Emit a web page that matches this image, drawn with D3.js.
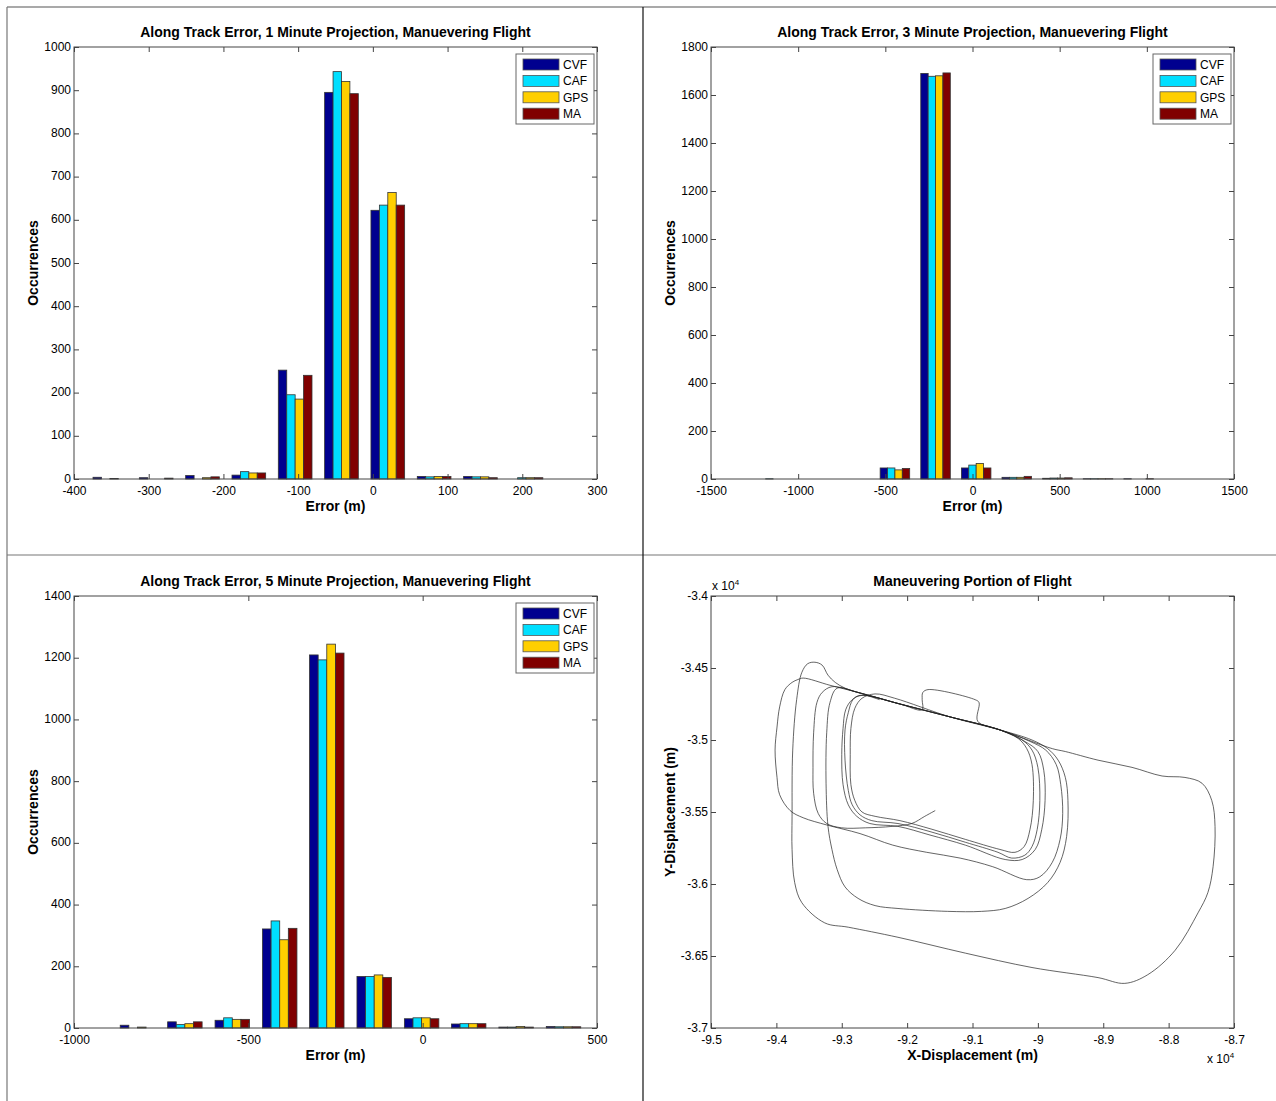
<!DOCTYPE html>
<html>
<head>
<meta charset="utf-8">
<script src="https://cdn.jsdelivr.net/npm/d3@7"></script>
<style>
  html, body { margin: 0; padding: 0; background: #fff; }
  svg { display: block; }
  text { font-family: "Liberation Sans", Arial, Helvetica, sans-serif; }
</style>
</head>
<body>
<svg id="fig" width="1276" height="1101"></svg>
<script>
// ---- series ----
const seriesNames = ["CVF", "CAF", "GPS", "MA"];
const seriesColors = ["#00008f", "#00dfff", "#ffcf00", "#800000"];

// 1 minute projection: histogram bin centres (m) and counts
const oneMinBins = [-352, -290, -228, -166, -104, -42, 20, 82, 144, 205];
const oneMinCVF = [4, 3, 8, 9, 252, 895, 622, 6, 6, 0];
const oneMinCAF = [0, 0, 0, 17, 195, 943, 634, 5, 5, 3];
const oneMinGPS = [1, 0, 3, 14, 185, 920, 663, 6, 5, 3];
const oneMinMA  = [0, 2, 5, 14, 240, 892, 634, 6, 3, 3];
const oneMinXTicks = [-400, -300, -200, -100, 0, 100, 200, 300];
const oneMinYTicks = [0, 100, 200, 300, 400, 500, 600, 700, 800, 900, 1000];

// 3 minute projection
const threeMinBins = [-1144, -911, -678, -445, -212, 21, 254, 487, 720, 953];
const threeMinCVF = [0, 0, 0, 46, 1690, 46, 7, 3, 1, 1];
const threeMinCAF = [1, 0, 0, 46, 1678, 58, 7, 4, 1, 0];
const threeMinGPS = [0, 0, 0, 38, 1680, 65, 7, 4, 1, 0];
const threeMinMA  = [0, 0, 0, 44, 1692, 46, 11, 5, 1, 1];
const threeMinXTicks = [-1500, -1000, -500, 0, 500, 1000, 1500];
const threeMinYTicks = [0, 200, 400, 600, 800, 1000, 1200, 1400, 1600, 1800];

// 5 minute projection
const fiveMinBins = [-818, -682, -546, -410, -275, -139, -3, 132, 268, 404];
const fiveMinCVF = [9, 20, 25, 321, 1209, 167, 30, 13, 3, 5];
const fiveMinCAF = [0, 11, 33, 347, 1193, 167, 33, 14, 3, 4];
const fiveMinGPS = [3, 14, 28, 286, 1244, 172, 33, 14, 5, 4];
const fiveMinMA  = [0, 20, 28, 323, 1215, 164, 30, 14, 3, 4];
const fiveMinXTicks = [-1000, -500, 0, 500];
const fiveMinYTicks = [0, 200, 400, 600, 800, 1000, 1200, 1400];

// maneuvering flight track, [x, y] in metres
const flightTrack = [
  [-91570,-35490],[-91730,-35530],[-91930,-35580],[-92230,-35600],[-92640,-35610],[-93000,-35610],
  [-93230,-35580],[-93360,-35510],[-93430,-35370],[-93440,-35190],[-93430,-34950],[-93380,-34740],
  [-93300,-34670],[-93150,-34630],[-92750,-34670],[-92110,-34750],[-91340,-34840],[-90580,-34930],
  // first racetrack
  [-90240,-35000],[-90090,-35070],[-90000,-35190],[-89970,-35420],[-90010,-35620],[-90090,-35740],
  [-90200,-35800],[-90400,-35820],[-90610,-35780],[-91110,-35710],[-91620,-35640],[-92140,-35580],
  [-92540,-35560],[-92720,-35520],[-92840,-35450],[-92900,-35350],[-92950,-35140],[-92950,-34930],
  [-92900,-34810],[-92830,-34720],[-92720,-34690],[-92110,-34750],[-91340,-34840],[-90580,-34930],
  // second racetrack
  [-90200,-35010],[-90000,-35080],[-89910,-35210],[-89890,-35420],[-89940,-35620],[-90040,-35760],
  [-90240,-35830],[-90500,-35830],[-91110,-35730],[-91650,-35660],[-92140,-35600],[-92570,-35580],
  [-92770,-35530],[-92900,-35450],[-92980,-35310],[-93000,-35100],[-92980,-34920],[-92940,-34790],
  [-92840,-34720],[-92690,-34690],[-92110,-34750],
  // detour north, then third racetrack
  [-91770,-34790],[-91770,-34720],[-91760,-34670],[-91680,-34650],[-90960,-34720],[-90900,-34740],
  [-90920,-34870],[-90580,-34930],[-90300,-34990],[-90170,-35060],[-90090,-35170],[-90070,-35420],
  [-90120,-35620],[-90210,-35740],[-90350,-35780],[-90580,-35760],[-91110,-35690],[-91620,-35620],
  [-92110,-35560],[-92490,-35530],[-92690,-35500],[-92800,-35420],[-92860,-35310],[-92870,-35100],
  [-92860,-34920],[-92800,-34780],[-92690,-34710],[-92490,-34680],[-92190,-34710],[-91340,-34840],
  [-90580,-34930],
  // wider loop
  [-90090,-35000],[-89850,-35060],[-89690,-35140],[-89580,-35260],[-89540,-35420],[-89560,-35670],
  [-89660,-35850],[-89850,-35990],[-90150,-36100],[-90500,-36170],[-90860,-36190],[-91380,-36190],
  [-92140,-36170],[-92490,-36150],[-92750,-36100],[-92950,-36020],[-93070,-35900],[-93150,-35760],
  [-93210,-35600],[-93240,-35300],[-93230,-34950],[-93180,-34740],[-93070,-34640],[-92750,-34670],
  [-92110,-34750],[-91340,-34840],[-90580,-34930],
  // westernmost loop
  [-90120,-35010],[-89880,-35070],[-89720,-35170],[-89650,-35310],[-89620,-35510],[-89660,-35690],
  [-89780,-35850],[-89970,-35950],[-90170,-35970],[-90690,-35880],[-91190,-35820],[-91700,-35780],
  [-92220,-35730],[-92720,-35650],[-93230,-35590],[-93590,-35540],[-93790,-35490],[-93950,-35380],
  [-93990,-35260],[-94020,-35070],[-93990,-34910],[-93950,-34770],[-93870,-34650],[-93760,-34600],
  [-93670,-34580],[-93590,-34570],[-93180,-34620],[-92750,-34670],[-92110,-34750],[-91340,-34840],
  [-90580,-34930],
  // outer loop
  [-89780,-35060],[-89580,-35080],[-89080,-35140],[-88560,-35190],[-88100,-35250],[-87750,-35260],
  [-87490,-35300],[-87340,-35420],[-87290,-35600],[-87320,-35880],[-87400,-36060],[-87550,-36200],
  [-87900,-36460],[-88320,-36630],[-88670,-36690],[-89080,-36650],[-90090,-36580],[-91110,-36480],
  [-92140,-36370],[-92900,-36300],[-93260,-36270],[-93610,-36130],[-93720,-35990],[-93760,-35760],
  [-93760,-35530],[-93750,-35070],[-93690,-34720],[-93610,-34530],[-93520,-34470],[-93410,-34460],
  [-93300,-34480],[-93210,-34550],[-93100,-34600],[-92950,-34640],[-92750,-34670],[-92420,-34720]
];
const trackXTicks = [-95000, -94000, -93000, -92000, -91000, -90000, -89000, -88000, -87000];
const trackYTicks = [-34000, -34500, -35000, -35500, -36000, -36500, -37000];

// ---- drawing ----
const svg = d3.select("#fig");
const FONT = '"Liberation Sans", Arial, Helvetica, sans-serif';
const plain = d => String(d);   // ASCII hyphen for negatives

// page frame
const frame = svg.append("g").attr("fill", "none");
frame.append("line").attr("x1", 7).attr("y1", 7).attr("x2", 1276).attr("y2", 7).attr("stroke", "#555").attr("stroke-width", 1.2);
frame.append("line").attr("x1", 7).attr("y1", 7).attr("x2", 7).attr("y2", 1101).attr("stroke", "#777").attr("stroke-width", 1.2);
frame.append("line").attr("x1", 7).attr("y1", 555).attr("x2", 1276).attr("y2", 555).attr("stroke", "#777").attr("stroke-width", 1.2);
frame.append("line").attr("x1", 643).attr("y1", 7).attr("x2", 643).attr("y2", 1101).attr("stroke", "#111").attr("stroke-width", 1.2);

function styleAxis(g) {
  g.attr("font-size", 12).attr("font-family", FONT);
  g.select(".domain").remove();
  g.selectAll(".tick line").attr("stroke", "#444");
  g.selectAll(".tick text").attr("fill", "#000");
}

function drawAxes(g, box, x, y, xt, yt, xfmt, yfmt) {
  g.append("g").attr("transform", `translate(0,${box.y1})`)
    .call(d3.axisBottom(x).tickValues(xt).tickSize(-5).tickPadding(7).tickFormat(xfmt))
    .call(styleAxis);
  g.append("g").attr("transform", `translate(0,${box.y0})`)
    .call(d3.axisTop(x).tickValues(xt).tickSize(-5).tickFormat(""))
    .call(styleAxis);
  const left = g.append("g").attr("transform", `translate(${box.x0},0)`)
    .call(d3.axisLeft(y).tickValues(yt).tickSize(-5).tickPadding(3).tickFormat(yfmt))
    .call(styleAxis);
  left.selectAll(".tick text").attr("dy", "0.26em");
  g.append("g").attr("transform", `translate(${box.x1},0)`)
    .call(d3.axisRight(y).tickValues(yt).tickSize(-5).tickFormat(""))
    .call(styleAxis);
  g.append("rect")
    .attr("x", box.x0).attr("y", box.y0)
    .attr("width", box.x1 - box.x0).attr("height", box.y1 - box.y0)
    .attr("fill", "none").attr("stroke", "#444").attr("stroke-width", 1);
}

function drawLabels(g, box, title, xLabel, yLabel) {
  const cx = (box.x0 + box.x1) / 2, cy = (box.y0 + box.y1) / 2;
  g.append("text").attr("x", cx).attr("y", box.y0 - 10)
    .attr("text-anchor", "middle").attr("font-size", 14).attr("font-weight", "bold").text(title);
  g.append("text").attr("x", cx).attr("y", box.y1 + 32)
    .attr("text-anchor", "middle").attr("font-size", 14).attr("font-weight", "bold").text(xLabel);
  g.append("text").attr("transform", `translate(${box.x0 - 36},${cy}) rotate(-90)`)
    .attr("text-anchor", "middle").attr("font-size", 14).attr("font-weight", "bold").text(yLabel);
}

function histPanel(box, cfg) {
  const g = svg.append("g");
  const x = d3.scaleLinear().domain(cfg.xDomain).range([box.x0, box.x1]);
  const y = d3.scaleLinear().domain(cfg.yDomain).range([box.y1, box.y0]);
  const step = x(cfg.bins[1]) - x(cfg.bins[0]);
  const groupW = step * 0.727;
  const bw = groupW / seriesNames.length;

  cfg.series.forEach((vals, si) => {
    g.append("g").selectAll("rect")
      .data(vals.map((v, i) => ({ v, c: cfg.bins[i] })))
      .join("rect")
      .attr("x", d => x(d.c) - groupW / 2 + si * bw)
      .attr("y", d => y(d.v))
      .attr("width", bw)
      .attr("height", d => y(0) - y(d.v))
      .attr("fill", seriesColors[si])
      .attr("stroke", "#333")
      .attr("stroke-width", 0.8);
  });

  drawAxes(g, box, x, y, cfg.xTicks, cfg.yTicks, plain, plain);
  drawLabels(g, box, cfg.title, "Error (m)", "Occurrences");

  // legend
  const lw = 78, lh = 70;
  const lx = box.x1 - 3 - lw, ly = box.y0 + 7;
  const lg = g.append("g");
  lg.append("rect").attr("x", lx).attr("y", ly).attr("width", lw).attr("height", lh)
    .attr("fill", "#fff").attr("stroke", "#666").attr("stroke-width", 1);
  seriesNames.forEach((name, i) => {
    const ry = ly + 5 + i * 16.4;
    lg.append("rect").attr("x", lx + 7).attr("y", ry).attr("width", 36).attr("height", 11)
      .attr("fill", seriesColors[i]).attr("stroke", "#555").attr("stroke-width", 0.8);
    lg.append("text").attr("x", lx + 47).attr("y", ry + 10)
      .attr("font-size", 12).text(name);
  });
}

histPanel({ x0: 74, x1: 597, y0: 47, y1: 479 }, {
  title: "Along Track Error, 1 Minute Projection, Manuevering Flight",
  xDomain: [-400, 300], yDomain: [0, 1000],
  xTicks: oneMinXTicks, yTicks: oneMinYTicks, bins: oneMinBins,
  series: [oneMinCVF, oneMinCAF, oneMinGPS, oneMinMA]
});

histPanel({ x0: 711, x1: 1234, y0: 47, y1: 479 }, {
  title: "Along Track Error, 3 Minute Projection, Manuevering Flight",
  xDomain: [-1500, 1500], yDomain: [0, 1800],
  xTicks: threeMinXTicks, yTicks: threeMinYTicks, bins: threeMinBins,
  series: [threeMinCVF, threeMinCAF, threeMinGPS, threeMinMA]
});

histPanel({ x0: 74, x1: 597, y0: 596, y1: 1028 }, {
  title: "Along Track Error, 5 Minute Projection, Manuevering Flight",
  xDomain: [-1000, 500], yDomain: [0, 1400],
  xTicks: fiveMinXTicks, yTicks: fiveMinYTicks, bins: fiveMinBins,
  series: [fiveMinCVF, fiveMinCAF, fiveMinGPS, fiveMinMA]
});

// flight track panel
(function trackPanel() {
  const box = { x0: 711, x1: 1234, y0: 596, y1: 1028 };
  const g = svg.append("g");
  const x = d3.scaleLinear().domain([-95000, -87000]).range([box.x0, box.x1]);
  const y = d3.scaleLinear().domain([-37000, -34000]).range([box.y1, box.y0]);

  const line = d3.line().x(d => x(d[0])).y(d => y(d[1])).curve(d3.curveCatmullRom.alpha(0.5));
  g.append("path").datum(flightTrack).attr("d", line)
    .attr("fill", "none").attr("stroke", "#222").attr("stroke-width", 0.7);

  const fmt = v => String(+(v / 1e4).toFixed(2));
  drawAxes(g, box, x, y, trackXTicks, trackYTicks, fmt, fmt);
  drawLabels(g, box, "Maneuvering Portion of Flight", "X-Displacement (m)", "Y-Displacement (m)");

  // exponent markers
  const e1 = g.append("text").attr("x", box.x0 + 1).attr("y", box.y0 - 6).attr("font-size", 12);
  e1.append("tspan").text("x 10");
  e1.append("tspan").attr("dy", -5).attr("font-size", 8).text("4");
  const e2 = g.append("text").attr("x", box.x1 - 27).attr("y", box.y1 + 35).attr("font-size", 12);
  e2.append("tspan").text("x 10");
  e2.append("tspan").attr("dy", -5).attr("font-size", 8).text("4");
})();
</script>
</body>
</html>
